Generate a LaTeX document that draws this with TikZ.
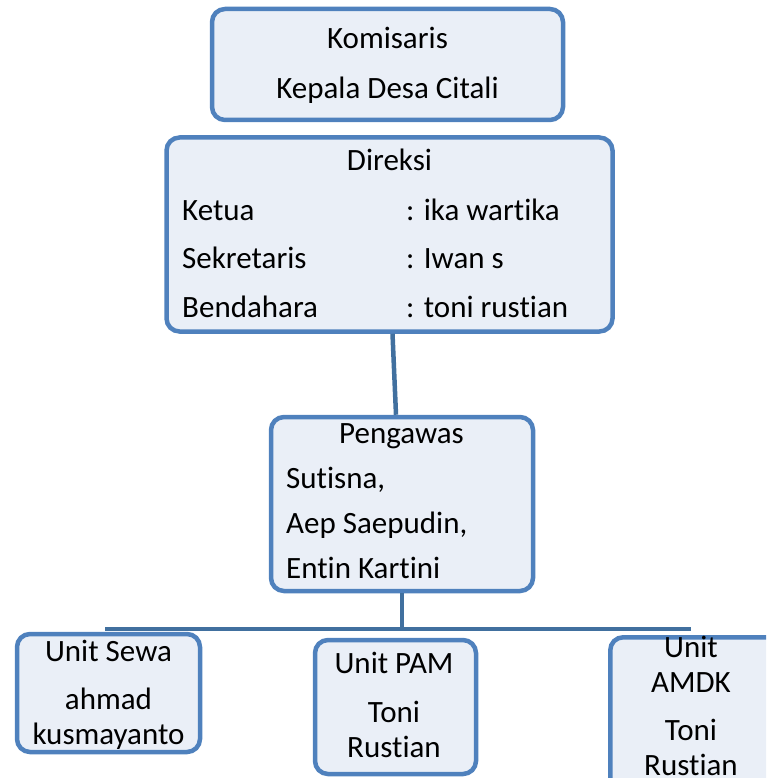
\documentclass[tikz,border=0pt]{standalone}
\usepackage{fontspec}
\setmainfont{Carlito}[Ligatures=NoCommon]
\definecolor{boxline}{HTML}{4F81BD}
\definecolor{boxfill}{HTML}{EAEFF7}
\definecolor{connline}{HTML}{41709F}
\begin{document}
\begin{tikzpicture}[x=1pt,y=-1pt,
  box/.style={draw=boxline,fill=boxfill,line width=4.5pt,rounded corners=13pt,inner sep=0pt},
  txt/.style={font=\fontsize{31}{37}\selectfont,inner sep=0pt},
  conn/.style={draw=connline,line width=4.5pt}]
\useasboundingbox (0,0) rectangle (766,778);
\clip (0,0) rectangle (766,778);
\node[box,minimum width=351,minimum height=111] (kom) at (387.5,64.5) {};
\node[box,minimum width=446,minimum height=194] (dir) at (389.5,234.5) {};
\node[box,minimum width=262,minimum height=174] (peng) at (402,504) {};
\node[box,minimum width=183,minimum height=118] (sewa) at (108.5,693) {};
\node[box,minimum width=161,minimum height=134] (pam) at (395.5,707) {};
\node[box,minimum width=190,minimum height=190,anchor=north west] (amdk) at (608,635) {};
\draw[conn] ([xshift=3pt]dir.south) -- ([xshift=-6pt]peng.north);
\coordinate (barL) at (105,629);
\coordinate (barR) at (691,629);
\draw[conn] (barL) -- (barR);
\draw[conn] (peng.south) -- (peng.south |- barL);
\node[txt,anchor=base] (komA) at (387.5,49) {Komisaris};
\node[txt,anchor=base] (komB) at (387.5,99) {Kepala Desa Citali};
\node[txt,anchor=base] (dirA) at (389.5,171) {Direksi};
\node[txt,anchor=base west] (dirB) at (182,220) {Ketua};
\node[txt,anchor=base west] (dirC) at (182,268) {Sekretaris};
\node[txt,anchor=base west] (dirD) at (182,317) {Bendahara};
\node[txt,anchor=base west] (dirE) at (406,220) {: ika wartika};
\node[txt,anchor=base west] (dirF) at (406,268) {: Iwan s};
\node[txt,anchor=base west] (dirG) at (406,317) {: toni rustian};
\node[txt,anchor=base] (pengA) at (401.5,443) {Pengawas};
\node[txt,anchor=base west] (pengB) at (286,488) {Sutisna,};
\node[txt,anchor=base west] (pengC) at (286,533) {Aep Saepudin,};
\node[txt,anchor=base west] (pengD) at (286,578) {Entin Kartini};
\node[txt,anchor=base] (sewaA) at (108.5,661) {Unit Sewa};
\node[txt,anchor=base] (sewaB) at (108.5,709) {ahmad};
\node[txt,anchor=base] (sewaC) at (108.5,744) {kusmayanto};
\node[txt,anchor=base] (pamA) at (394,673) {Unit PAM};
\node[txt,anchor=base] (pamB) at (394,722) {Toni};
\node[txt,anchor=base] (pamC) at (394,757) {Rustian};
\node[txt,anchor=base] (amdkA) at (691,657) {Unit};
\node[txt,anchor=base] (amdkB) at (691,692) {AMDK};
\node[txt,anchor=base] (amdkC) at (691,740) {Toni};
\node[txt,anchor=base] (amdkD) at (691,775) {Rustian};
\end{tikzpicture}
\end{document}
